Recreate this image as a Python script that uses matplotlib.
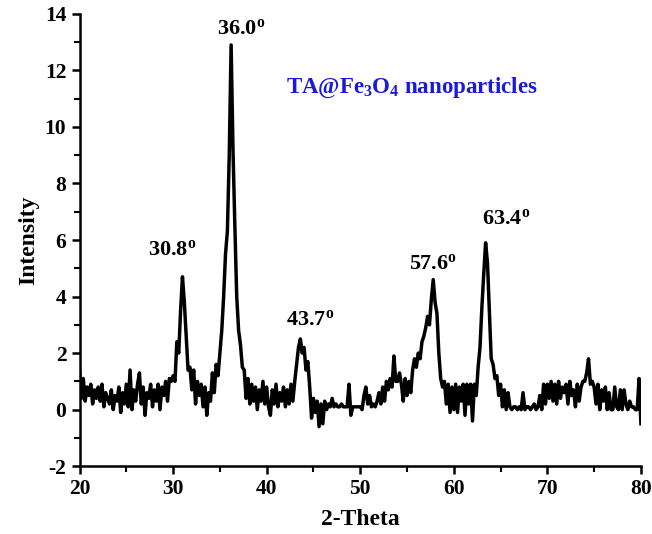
import numpy as np
import matplotlib.pyplot as plt

plt.rcParams['font.family'] = ['Liberation Serif', 'DejaVu Serif']
plt.rcParams['font.weight'] = 'bold'
plt.rcParams['mathtext.default'] = 'regular'
plt.rcParams['axes.unicode_minus'] = False

# 2-theta from 20 to 80, step 0.2
two_theta = np.linspace(20, 80, 301)
intensity = [
    1.4, 0.4, 1.1, 0.3, 0.8, 0.5, 0.9, 0.2, 0.7, 0.4,
    0.8, 0.3, 0.9, 0.1, 0.6, 0.4, 0.2, 0.7, 0.0, 0.5,
    0.3, 0.8, -0.1, 0.6, 0.2, 0.9, 0.1, 1.4, 0.0, 0.7,
    0.3, 0.9, 1.3, 0.2, 0.8, -0.2, 0.6, 0.4, 0.9, 0.1,
    0.7, 0.3, 0.9, 0.0, 0.8, 0.5, 1.0, 0.3, 1.1, 1.0,
    1.2, 1.0, 2.4, 2.0, 3.5, 4.7, 3.8, 2.6, 1.4, 1.5,
    0.7, 1.4, 0.2, 1.0, 0.5, 0.9, 0.1, 0.8, -0.2, 0.6,
    0.3, 1.3, 0.6, 1.6, 1.2, 2.0, 2.8, 4.0, 5.5, 6.3,
    9.0, 12.9, 9.2, 6.5, 4.0, 2.8, 2.3, 1.5, 1.4, 0.4,
    1.1, 0.2, 0.9, 0.3, 0.8, 0.0, 0.7, 0.3, 1.0, 0.2,
    0.8, 0.1, -0.2, 0.7, 0.2, 0.9, 0.1, 0.6, 0.3, 0.8,
    0.1, 0.7, 0.2, 0.9, 0.3, 1.0, 1.6, 2.2, 2.5, 2.0,
    2.2, 1.4, 1.7, 0.8, -0.3, 0.4, -0.1, 0.3, -0.6, 0.2,
    -0.5, 0.3, 0.0, 0.2, 0.1, 0.4, 0.1, 0.2, 0.1, 0.1,
    0.2, 0.1, 0.1, 0.1, 0.9, -0.2, 0.1, 0.1, 0.1, 0.1,
    0.1, 0.0, 0.5, 0.8, 0.2, 0.5, 0.1, 0.2, 0.1, 0.3,
    0.6, 0.2, 0.8, 0.3, 1.0, 0.7, 1.1, 0.8, 1.9, 1.0,
    1.0, 1.3, 0.9, 0.3, 1.1, 0.5, 1.0, 0.6, 1.4, 1.8,
    1.5, 2.0, 1.8, 2.4, 2.6, 2.9, 3.3, 3.0, 3.9, 4.6,
    3.8, 3.4, 2.0, 1.1, 0.8, 1.0, 0.2, 0.9, -0.1, 0.8,
    0.0, 0.9, -0.1, 0.8, 0.3, 0.9, -0.2, 0.9, 0.2, 0.9,
    -0.4, 0.9, 0.5, 1.5, 2.2, 3.6, 4.8, 5.9, 5.2, 3.5,
    1.8, 1.6, 1.1, 1.2, 0.5, 0.9, 0.1, 0.7, 0.0, 0.6,
    0.1, 0.0, 0.1, 0.1, 0.0, 0.1, 0.0, 0.6, 0.0, 0.1,
    0.1, 0.0, 0.1, 0.2, 0.0, 0.1, 0.5, 0.0, 0.9, 0.2,
    0.9, 0.4, 1.0, 0.3, 0.9, 0.2, 1.0, 0.4, 0.8, 0.6,
    0.9, 0.2, 1.0, 0.5, 0.7, 0.1, 0.9, 0.3, 0.8, 1.0,
    1.0, 1.3, 1.8, 0.9, 1.0, 0.8, 0.2, 0.9, 0.0, 0.7,
    0.3, 0.8, 0.0, 0.6, 0.0, 0.0, 0.8, 0.1, 0.0, 0.7,
    0.0, 0.7, 0.2, 0.0, 0.3, 0.1, 0.1, 0.0, 0.0, 1.1,
    -0.5,
]

peak_labels = ['30.8', '36.0', '43.7', '57.6', '63.4']
peak_label_x = [29.9, 37.3, 44.6, 57.8, 65.6]
peak_label_y = [5.3, 13.1, 2.8, 4.8, 6.4]

fig = plt.figure(figsize=(6.52, 5.34), dpi=100)
ax = fig.add_axes([0.122, 0.127, 0.861, 0.847])

ax.plot(two_theta, intensity, color='black', lw=2.5)

for lab, x, y in zip(peak_labels, peak_label_x, peak_label_y):
    ax.text(x, y, lab + r'$^\mathregular{o}$', ha='center', va='bottom',
            fontsize=16, fontweight='bold')

ax.text(42.1, 11.4, r'TA@Fe$_\mathregular{3}$O$_\mathregular{4}$ nanoparticles',
        color='#1a1adb', fontsize=16.5, fontweight='bold', va='center')

ax.set_xlim(20, 80)
ax.set_ylim(-2, 14)
ax.set_xticks(np.arange(20, 81, 10))
ax.set_xticks(np.arange(25, 80, 10), minor=True)
ax.set_yticks(np.arange(-2, 15, 2))
ax.set_yticks(np.arange(-1, 14, 2), minor=True)

for s in ['top', 'right']:
    ax.spines[s].set_visible(False)
for s in ['left', 'bottom']:
    ax.spines[s].set_linewidth(1.8)

ax.tick_params(which='major', direction='out', length=6, width=1.8, labelsize=15.5)
ax.tick_params(which='minor', direction='out', length=4, width=1.5)

ax.set_xlabel('2-Theta', fontsize=17, fontweight='bold', labelpad=7)
ax.set_ylabel('Intensity', fontsize=17, fontweight='bold', labelpad=4)

plt.savefig('out.png', dpi=100)
